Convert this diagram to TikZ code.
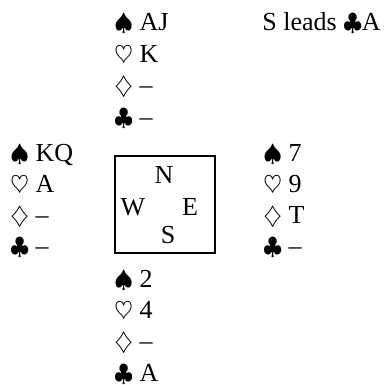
\documentclass[tikz,border=0pt]{standalone}
\usepackage{amssymb}
\usepackage{fontspec}
\setmainfont{Liberation Serif}

\begin{document}
\begin{tikzpicture}[x=0.5pt, y=-0.5pt,
    card/.style = {anchor=base west, inner sep=0pt, font=\fontsize{13}{15}\selectfont},
    seat/.style = {anchor=base, inner sep=0pt, font=\fontsize{13}{15}\selectfont},
    table/.style = {draw, line width=1.1pt, minimum width=50pt, minimum height=48.5pt, inner sep=0pt}]
    \useasboundingbox (0,0) rectangle (385,385);

    % north
    \node[card] (n1) at (114,31) {$\spadesuit$ AJ};
    \node[card] (n2) at (114,63) {$\heartsuit$ K};
    \node[card] (n3) at (114,94) {$\diamondsuit$ --};
    \node[card] (n4) at (114,126) {$\clubsuit$ --};

    \node[card] (lead) at (262,31) {S leads $\clubsuit$A};

    % west
    \node[card] (w1) at (10,161) {$\spadesuit$ KQ};
    \node[card] (w2) at (10,192) {$\heartsuit$ A};
    \node[card] (w3) at (10,223) {$\diamondsuit$ --};
    \node[card] (w4) at (10,254) {$\clubsuit$ --};

    % east
    \node[card] (e1) at (263,161) {$\spadesuit$ 7};
    \node[card] (e2) at (263,192) {$\heartsuit$ 9};
    \node[card] (e3) at (263,223) {$\diamondsuit$ T};
    \node[card] (e4) at (263,254) {$\clubsuit$ --};

    % south
    \node[card] (s1) at (114,287) {$\spadesuit$ 2};
    \node[card] (s2) at (114,318) {$\heartsuit$ 4};
    \node[card] (s3) at (114,349) {$\diamondsuit$ --};
    \node[card] (s4) at (114,381) {$\clubsuit$ A};

    % the table
    \node[table] (tbl) at (165,204.5) {};
    \node[seat] (N) at (164,183) {N};
    \node[seat] (W) at (133,215) {W};
    \node[seat] (E) at (190,215) {E};
    \node[seat] (S) at (168,243) {S};
\end{tikzpicture}
\end{document}
